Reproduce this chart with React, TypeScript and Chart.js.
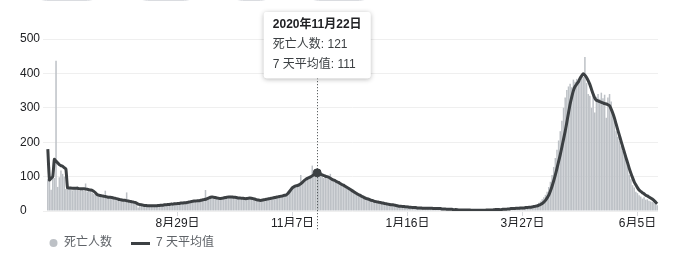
import React, { useEffect, useRef } from 'react';
import { Chart, registerables, Tooltip } from 'chart.js';

Chart.register(...registerables);

const FONT = "'Liberation Sans', Arial, 'Noto Sans CJK SC', sans-serif";

// categories: one per day
const START_DATE = '2020-06-11';
const DAY_COUNT = 372;
const dates: string[] = [];
{
  const d0 = new Date(START_DATE + 'T00:00:00Z');
  for (let i = 0; i < DAY_COUNT; i++) {
    const d = new Date(d0.getTime() + i * 86400000);
    dates.push(d.toISOString().slice(0, 10));
  }
}

const tickDates = ['2020-08-29', '2020-11-07', '2021-01-16', '2021-03-27', '2021-06-05'];
const tickLabels = ['8月29日', '11月7日', '1月16日', '3月27日', '6月5日'];
const activeDate = '2020-11-22';
const yTicks = [0, 100, 200, 300, 400, 500];

const seriesNames = ['死亡人数', '7 天平均值'];

// daily deaths (bars)
const deaths = [
  92, 128, 62, 104, 96, 437, 70, 98, 118, 108,
  100, 64, 62, 66, 70, 60, 64, 68, 72, 58,
  63, 66, 60, 80, 57, 62, 59, 54, 50, 47,
  45, 48, 42, 46, 40, 59, 38, 44, 36, 41,
  37, 35, 33, 38, 30, 32, 29, 34, 54, 28,
  30, 26, 27, 24, 22, 10, 20, 18, 19, 15,
  16, 14, 17, 13, 15, 16, 14, 18, 15, 19,
  16, 20, 17, 21, 18, 22, 19, 24, 20, 22,
  24, 21, 25, 23, 26, 24, 28, 26, 29, 27,
  31, 28, 33, 30, 34, 32, 61, 35, 39, 42,
  44, 38, 41, 36, 40, 35, 39, 42, 37, 43,
  40, 44, 38, 42, 41, 37, 40, 36, 39, 35,
  38, 34, 41, 39, 36, 38, 33, 35, 30, 32,
  29, 34, 31, 36, 33, 38, 35, 40, 37, 42,
  39, 45, 41, 47, 44, 50, 48, 58, 64, 70,
  68, 76, 72, 80, 105, 78, 92, 96, 90, 100,
  104, 132, 108, 115, 121, 112, 102, 110, 96, 104,
  98, 94, 108, 88, 92, 84, 86, 80, 78, 75,
  72, 74, 64, 68, 60, 62, 55, 58, 50, 52,
  44, 48, 40, 42, 34, 38, 30, 34, 28, 30,
  26, 28, 24, 25, 22, 24, 20, 21, 18, 20,
  17, 19, 15, 17, 13, 15, 12, 14, 11, 13,
  10, 12, 9, 11, 10, 8, 10, 8, 9, 7,
  8, 9, 7, 8, 9, 6, 8, 7, 6, 7,
  5, 7, 6, 4, 5, 6, 4, 5, 3, 4,
  3, 4, 2, 3, 4, 2, 3, 3, 2, 2,
  1, 3, 2, 2, 1, 2, 3, 3, 4, 2,
  3, 4, 4, 3, 5, 4, 5, 6, 4, 5,
  6, 7, 6, 8, 7, 9, 8, 9, 10, 9,
  11, 10, 12, 13, 12, 15, 16, 18, 20, 24,
  28, 34, 40, 47, 56, 70, 85, 105, 128, 154,
  178, 205, 232, 262, 300, 330, 352, 362, 370, 360,
  382, 376, 384, 380, 378, 385, 390, 448, 372, 340,
  335, 300, 345, 286, 332, 340, 326, 344, 328, 338,
  271, 330, 340, 318, 286, 262, 232, 216, 203, 188,
  174, 162, 154, 130, 105, 92, 75, 68, 56, 52,
  46, 42, 36, 40, 33, 34, 30, 28, 26, 24,
  20, 17,
];

// 7-day average (line)
const avg7 = [
  180, 90, 95, 100, 150, 145, 140, 135, 132, 130,
  126, 122, 67, 67, 67, 66, 66, 66, 66, 65,
  65, 65, 65, 64, 63, 62, 61, 60, 57, 53,
  48, 46, 45, 44, 43, 42, 41, 40, 40, 39,
  38, 37, 36, 34, 33, 32, 31, 31, 30, 29,
  28, 27, 26, 25, 23, 20, 19, 18, 17, 16,
  16, 15, 15, 15, 15, 15, 15, 16, 16, 17,
  17, 18, 18, 19, 19, 20, 20, 21, 21, 22,
  22, 23, 23, 24, 24, 25, 26, 27, 28, 29,
  29, 30, 30, 31, 32, 33, 34, 36, 38, 40,
  41, 40, 39, 38, 37, 36, 37, 38, 39, 40,
  41, 41, 41, 40, 40, 39, 38, 38, 37, 37,
  36, 36, 37, 38, 37, 36, 35, 33, 32, 31,
  31, 32, 33, 34, 35, 36, 37, 38, 39, 40,
  41, 42, 43, 44, 46, 46, 50, 56, 62, 68,
  71, 73, 74, 76, 79, 83, 88, 92, 95, 97,
  99, 102, 106, 109, 111, 109, 107, 105, 103, 101,
  100, 98, 95, 92, 90, 88, 85, 83, 80, 77,
  75, 72, 69, 66, 63, 60, 57, 54, 51, 48,
  46, 43, 41, 38, 36, 35, 33, 31, 30, 28,
  27, 26, 25, 24, 23, 22, 21, 20, 19, 18,
  18, 17, 16, 15, 14, 14, 13, 13, 12, 12,
  11, 11, 10, 10, 10, 9, 9, 9, 8, 8,
  8, 8, 8, 8, 8, 7, 7, 7, 7, 7,
  6, 6, 6, 5, 5, 5, 5, 4, 4, 4,
  3, 3, 3, 3, 3, 3, 3, 3, 2, 2,
  2, 2, 2, 2, 2, 2, 2, 3, 3, 3,
  3, 3, 4, 4, 4, 4, 4, 5, 5, 5,
  6, 6, 7, 7, 7, 8, 8, 8, 9, 9,
  9, 10, 10, 11, 11, 12, 13, 14, 15, 17,
  19, 22, 26, 31, 38, 46, 58, 72, 88, 105,
  124, 144, 164, 186, 209, 232, 258, 285, 311, 332,
  350, 362, 369, 375, 385, 393, 399, 395, 388, 379,
  368, 354, 340, 328, 322, 320, 318, 316, 314, 312,
  311, 309, 306, 296, 284, 270, 253, 236, 220, 203,
  187, 171, 155, 140, 124, 110, 97, 85, 76, 68,
  61, 57, 53, 50, 46, 44, 41, 38, 35, 31,
  26, 21,
];

const BAR_COLOR = '#bdc1c6';
const LINE_COLOR = '#3c4043';

function fmtDate(s: string) {
  const [y, m, d] = s.split('-').map((v) => parseInt(v, 10));
  return `${y}年${m}月${d}日`;
}

(Tooltip.positioners as any).fixedTop = function (elements: any[]) {
  if (!elements.length) return false;
  return { x: elements[0].element.x, y: 12 };
};

function circleIcon() {
  const c = document.createElement('canvas');
  c.width = 28;
  c.height = 10;
  const g = c.getContext('2d')!;
  g.fillStyle = BAR_COLOR;
  g.beginPath();
  g.arc(23.5, 5, 4, 0, Math.PI * 2);
  g.fill();
  return c;
}

function lineIcon() {
  const c = document.createElement('canvas');
  c.width = 28;
  c.height = 4;
  const g = c.getContext('2d')!;
  g.fillStyle = LINE_COLOR;
  g.fillRect(9, 1, 19, 3);
  return c;
}

const hoverLinePlugin = {
  id: 'hoverLine',
  afterDatasetsDraw(chart: any) {
    const tt = chart.tooltip;
    if (!tt || !tt.getActiveElements().length) return;
    const ctx = chart.ctx;
    const x = Math.round(tt.caretX) + 0.5;
    ctx.save();
    ctx.strokeStyle = '#3c4043';
    ctx.lineWidth = 1;
    ctx.setLineDash([1, 2]);
    ctx.beginPath();
    ctx.moveTo(x, tt.y + tt.height);
    ctx.lineTo(x, chart.chartArea.bottom + 19);
    ctx.stroke();
    ctx.restore();
  },
  beforeTooltipDraw(chart: any, args: any) {
    const tt = args.tooltip;
    const ctx = chart.ctx;
    ctx.save();
    ctx.shadowColor = 'rgba(0,0,0,0.3)';
    ctx.shadowBlur = 5;
    ctx.shadowOffsetY = 1;
    ctx.fillStyle = '#ffffff';
    ctx.beginPath();
    if ((ctx as any).roundRect) (ctx as any).roundRect(tt.x, tt.y, tt.width, tt.height, 3);
    else ctx.rect(tt.x, tt.y, tt.width, tt.height);
    ctx.fill();
    ctx.restore();
  },
};

function DeathsChart() {
  const ref = useRef<HTMLCanvasElement | null>(null);
  useEffect(() => {
    const canvas = ref.current!;
    Chart.defaults.font.family = FONT;
    const icons = [circleIcon(), lineIcon()];
    const chart = new Chart(canvas, {
      type: 'bar',
      data: {
        labels: dates,
        datasets: [
          {
            type: 'bar',
            label: seriesNames[0],
            data: deaths,
            backgroundColor: BAR_COLOR,
            hoverBackgroundColor: BAR_COLOR,
            borderWidth: 0,
            barPercentage: 0.92,
            categoryPercentage: 1,
            order: 1,
          } as any,
          {
            type: 'line',
            label: seriesNames[1],
            data: avg7,
            borderColor: LINE_COLOR,
            borderWidth: 3,
            pointRadius: 0,
            pointHitRadius: 0,
            pointHoverRadius: 4,
            pointHoverBorderWidth: 1,
            pointHoverBackgroundColor: LINE_COLOR,
            pointHoverBorderColor: LINE_COLOR,
            tension: 0.2,
            borderJoinStyle: 'round',
            order: 0,
          } as any,
        ],
      },
      options: {
        animation: false,
        responsive: false,
        events: [],
        layout: { padding: { left: 20, right: 27, top: 39, bottom: 0 } },
        scales: {
          x: {
            type: 'category',
            offset: true,
            border: { display: false },
            grid: {
              display: true,
              drawOnChartArea: false,
              drawTicks: true,
              tickLength: 5,
              color: '#dadce0',
              offset: false,
            },
            ticks: {
              autoSkip: false,
              maxRotation: 0,
              minRotation: 0,
              padding: 0,
              color: '#202124',
              font: { size: 12 },
              callback(this: any, value: any) {
                const d = this.getLabelForValue(value);
                const k = tickDates.indexOf(d);
                return k >= 0 ? tickLabels[k] : '';
              },
            },
            afterBuildTicks: (s: any) => {
              s.ticks = s.ticks.filter((t: any) => tickDates.includes(dates[t.value]));
            },
            afterFit: (s: any) => {
              s.height = 16;
            },
          },
          y: {
            min: yTicks[0],
            max: yTicks[yTicks.length - 1],
            border: { display: false },
            grid: { color: '#efefef', drawTicks: true, tickLength: 4 },
            ticks: {
              stepSize: 100,
              color: '#202124',
              font: { size: 12 },
              crossAlign: 'far',
              padding: 0,
            },
            afterFit: (s: any) => {
              s.width = 27;
            },
          },
        },
        plugins: {
          legend: {
            display: true,
            position: 'bottom',
            align: 'start',
            labels: {
              usePointStyle: true,
              pointStyleWidth: 28,
              boxHeight: 12,
              padding: 10,
              color: '#5f6368',
              font: { size: 12 },
              generateLabels: () =>
                seriesNames.map((name, i) => ({
                  text: name,
                  fillStyle: i === 0 ? BAR_COLOR : LINE_COLOR,
                  strokeStyle: 'transparent',
                  lineWidth: 0,
                  hidden: false,
                  pointStyle: icons[i] as any,
                  datasetIndex: i,
                  fontColor: '#5f6368',
                })),
            },
          },
          tooltip: {
            enabled: true,
            position: 'fixedTop' as any,
            xAlign: 'center',
            yAlign: 'top',
            caretSize: 0,
            caretPadding: 0,
            backgroundColor: '#ffffff',
            titleColor: '#202124',
            bodyColor: '#3c4043',
            titleFont: { size: 12, weight: 'bold' },
            bodyFont: { size: 12 },
            padding: { top: 5, bottom: 6, left: 9, right: 9 },
            titleMarginBottom: 6,
            bodySpacing: 6,
            displayColors: false,
            cornerRadius: 3,
            borderWidth: 0,
            callbacks: {
              title: (items: any[]) => fmtDate(items[0].label),
            },
          },
        },
      },
      plugins: [hoverLinePlugin],
    } as any);

    const idx = dates.indexOf(activeDate);
    const active = [
      { datasetIndex: 0, index: idx },
      { datasetIndex: 1, index: idx },
    ];
    chart.setActiveElements(active);
    chart.tooltip!.setActiveElements(active, { x: 0, y: 0 });
    chart.update();

    return () => chart.destroy();
  }, []);

  return <canvas ref={ref} width={685} height={259} style={{ display: 'block', width: 685, height: 259 }} />;
}

const chips = [
  { left: 31, width: 72 },
  { left: 132, width: 68 },
  { left: 227, width: 49 },
  { left: 303, width: 72 },
];

export default function App() {
  return (
    <div style={{ position: 'fixed', left: 0, top: 0, width: 685, height: 259, background: '#fff', overflow: 'hidden' }}>
      <DeathsChart />
      {chips.map((c, i) => (
        <div
          key={i}
          style={{
            position: 'absolute',
            left: c.left,
            top: -30,
            width: c.width,
            height: 31,
            border: '1px solid #dadce0',
            borderRadius: 16,
            boxSizing: 'border-box',
          }}
        />
      ))}
    </div>
  );
}
